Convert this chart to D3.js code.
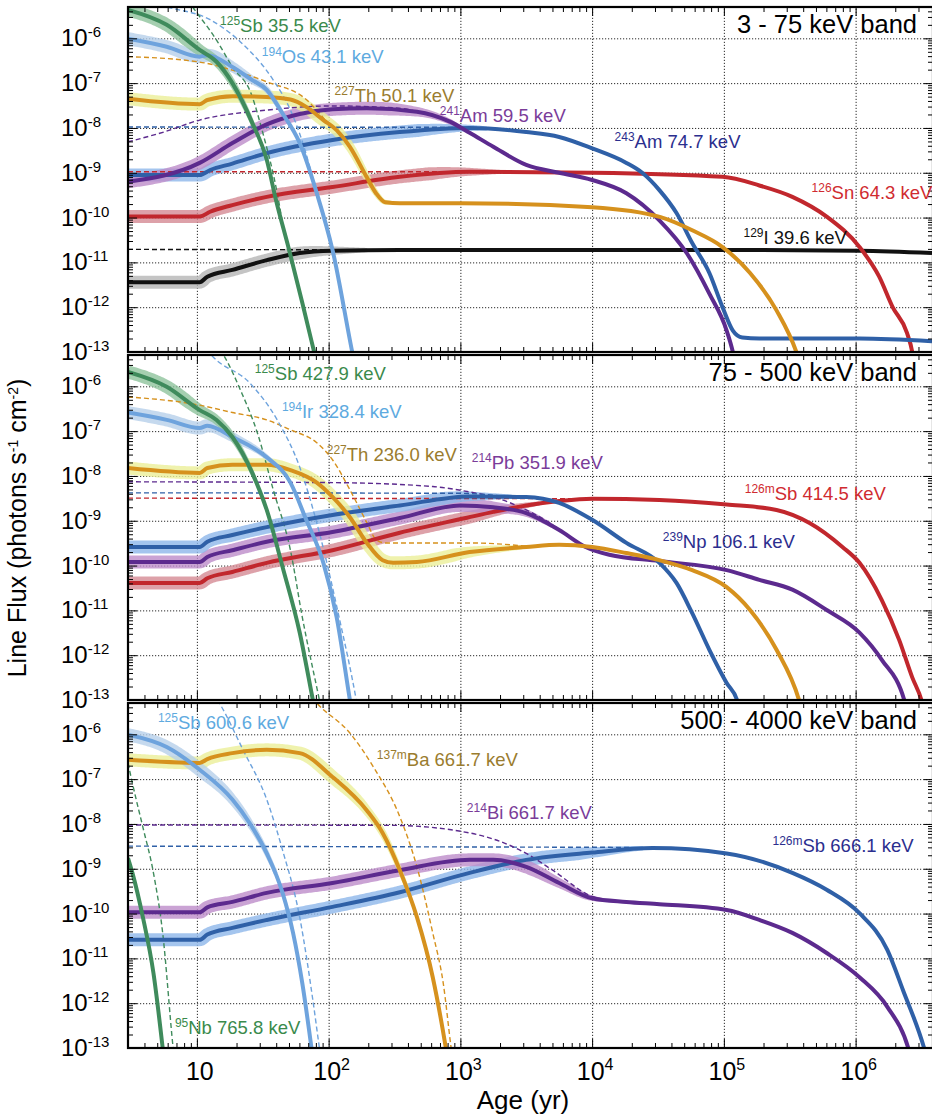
<!DOCTYPE html>
<html>
<head>
<meta charset="utf-8">
<title>Gamma-ray line flux versus remnant age</title>
<script src="https://cdn.jsdelivr.net/npm/d3@7/dist/d3.min.js"></script>
<style>
  html, body { margin: 0; padding: 0; background: #fff; }
  svg { display: block; font-family: "Liberation Sans", Arial, Helvetica, sans-serif; }
  .grid line { stroke: #2a2a2a; stroke-width: 1; stroke-dasharray: 1.2 1.8; }
  .ticks line { stroke: #000; stroke-width: 1; }
</style>
</head>
<body>
<svg id="chart" width="932" height="1114"></svg>
<script>
// ---------------- axis values ----------------
const ageTicks = [10, 1e2, 1e3, 1e4, 1e5, 1e6];
const ageTickPowers = ["", "2", "3", "4", "5", "6"];
const fluxTicks = [1e-13, 1e-12, 1e-11, 1e-10, 1e-9, 1e-8, 1e-7, 1e-6];
const fluxTickPowers = ["-13", "-12", "-11", "-10", "-9", "-8", "-7", "-6"];
const bandTitles = ["3 - 75 keV band", "75 - 500 keV band", "500 - 4000 keV band"];

// ---------------- 3 - 75 keV band: [age (yr), flux (ph/s/cm2)] ----------------
const p1Sb125 = [[3,4.3e-6],[5.9,2.0e-6],[10.5,5.5e-7],[14.1,3.0e-7],[18.6,1.0e-7],[26.3,1.3e-8],[33.9,1.95e-9],[39.8,2.5e-10],[50.1,1.9e-11],[63.1,1.26e-12],[77.6,1.0e-13],[90,1.6e-14]];
const p1Sb125Dash = [[7.9,1.0e-5],[9.3,5.0e-6],[14.1,9.1e-7],[18.6,2.3e-7],[25.7,6.0e-8],[31.6,7.9e-9],[40.7,3.5e-10],[45.7,5.0e-11]];
const p1Os194 = [[3,9.8e-7],[5.9,6.5e-7],[10.5,3.9e-7],[12,4.2e-7],[18.6,2.3e-7],[26.3,1.17e-7],[33.9,7.1e-8],[44.7,2.1e-8],[60.3,4.6e-9],[81.3,3.5e-10],[107,1.9e-11],[151,1.0e-13],[170,1.8e-14]];
const p1Os194Dash = [[4,7.1e-6],[6.0,5.0e-6],[12.6,2.6e-6],[21.4,8.3e-7],[38,1.17e-7],[51.3,2.5e-8],[63.1,5.0e-9],[79.4,4.5e-10]];
const p1Th227 = [[3,4.5e-8],[10.5,3.4e-8],[12,4.2e-8],[18.6,5.1e-8],[33.9,4.9e-8],[51.3,4.3e-8],[67.6,2.95e-8],[91.2,1.5e-8],[115,8.9e-9],[145,3.8e-9],[195,7.9e-10],[229,3.5e-10],[269,2.2e-10],[347,2.1e-10],[1000,2.1e-10],[1e4,1.7e-10],[3.31e4,1.02e-10],[5.75e4,5.2e-11],[9.77e4,2.2e-11],[1.58e5,5.8e-12],[2.51e5,8.5e-13],[3.55e5,1.0e-13],[4.2e5,2e-14]];
const p1Th227Dash = [[3,3.9e-7],[10.5,2.95e-7],[18.6,1.95e-7],[33.9,1.07e-7],[67.6,4.3e-8],[100,1.2e-8]];
const p1Am241 = [[3,6.3e-10],[10.5,1.66e-9],[18.6,4.6e-9],[33.9,1.2e-8],[60.3,2.05e-8],[107,2.6e-8],[195,2.75e-8],[468,2.3e-8],[832,1.38e-8],[1175,7.8e-9],[1778,3.8e-9],[3162,1.5e-9],[5623,1.0e-9],[1e4,6.9e-10],[1.82e4,3.5e-10],[3.24e4,8.7e-11],[5.25e4,1.58e-11],[7.76e4,2.0e-12],[1.05e5,3.0e-13],[1.17e5,1.0e-13],[1.3e5,2e-14]];
const p1Am241Dash = [[3,4.9e-9],[5.6,8.1e-9],[10.5,1.5e-8],[33.9,2.5e-8],[107,3.1e-8],[347,2.75e-8],[468,2.35e-8]];
const p1Am243 = [[3,8.9e-10],[10.5,8.9e-10],[12.6,1.15e-9],[18.6,1.6e-9],[33.9,2.75e-9],[107,5.4e-9],[347,8.1e-9],[1175,1.0e-8],[3162,8.1e-9],[5623,6.3e-9],[1e4,3.5e-9],[1.82e4,1.66e-9],[2.4e4,1.0e-9],[3.24e4,4.1e-10],[4.37e4,1.26e-10],[5.75e4,2.7e-11],[7.76e4,5.8e-12],[9.77e4,1.0e-12],[1.17e5,3.0e-13],[1.38e5,2.1e-13],[1.86e5,2.0e-13],[1.07e6,2.0e-13],[3.8e6,1.74e-13]];
const p1Am243Dash = [[3,1.05e-8],[1500,1.03e-8]];
const p1Sn126 = [[3,1.05e-10],[10.5,1.05e-10],[12.6,1.35e-10],[18.6,1.9e-10],[33.9,2.9e-10],[107,4.8e-10],[347,8.1e-10],[1175,1.05e-9],[1e4,1.0e-9],[9.77e4,8.1e-10],[1.86e5,5.2e-10],[3.31e5,2.9e-10],[6.03e5,1.05e-10],[1.07e6,2.2e-11],[1.51e6,4.8e-12],[1.91e6,1.0e-12],[2.45e6,2.7e-13],[2.69e6,1.0e-13],[2.9e6,2e-14]];
const p1Sn126Dash = [[3,1.05e-9],[2000,1.05e-9]];
const p1I129 = [[3,3.6e-12],[10.5,3.6e-12],[12,4.8e-12],[18.6,6.8e-12],[33.9,1.12e-11],[60.3,1.62e-11],[107,1.82e-11],[347,1.9e-11],[1.05e5,1.9e-11],[1.07e6,1.82e-11],[3.8e6,1.62e-11]];
const p1I129Dash = [[3,1.95e-11],[350,1.9e-11]];

// ---------------- 75 - 500 keV band ----------------
const p2Sb125 = [[3,2.1e-6],[5.9,9.8e-7],[10.5,2.95e-7],[14.1,1.78e-7],[18.6,7.4e-8],[26.3,1.17e-8],[33.9,1.74e-9],[44.7,9.3e-11],[60.3,3.2e-12],[75.9,1.0e-13],[85,1.8e-14]];
const p2Sb125Dash = [[12.6,1.26e-5],[16.2,4.6e-6],[21.4,8.3e-7],[28.8,9.1e-8],[38,4.9e-9],[51.3,2.2e-10],[63.1,7.1e-12],[85.1,1.0e-13],[100,1e-14]];
const p2Ir194 = [[3,2.6e-7],[5.9,1.78e-7],[10.5,1.17e-7],[12,1.32e-7],[18.6,7.4e-8],[33.9,2.6e-8],[51.3,7.1e-9],[67.6,1.05e-9],[91.2,1.15e-10],[115,7.1e-12],[145,1.0e-13],[165,1e-14]];
const p2Ir194Dash = [[10,1.26e-5],[13.2,4.6e-6],[25.1,1.2e-6],[40.7,1.78e-7],[60.3,1.58e-8],[85.1,5.4e-10],[120,7.1e-12],[162,1.0e-13],[185,1e-14]];
const p2Th227 = [[3,1.5e-8],[10.5,1.17e-8],[12,1.5e-8],[18.6,1.78e-8],[33.9,1.78e-8],[51.3,1.35e-8],[81.3,7.1e-9],[107,3.4e-9],[145,1.2e-9],[195,3.2e-10],[257,1.32e-10],[309,1.15e-10],[468,1.2e-10],[1175,2.0e-10],[3162,2.6e-10],[5623,2.9e-10],[1e4,2.6e-10],[1.82e4,1.9e-10],[3.24e4,1.32e-10],[5.75e4,7.9e-11],[1.05e5,3.3e-11],[1.58e5,1.02e-11],[2.51e5,1.32e-12],[3.72e5,1.0e-13],[4.3e5,2e-14]];
const p2Th227Dash = [[3,5.8e-7],[10.5,3.8e-7],[18.6,2.6e-7],[33.9,1.78e-7],[51.3,1.07e-7],[81.3,5.5e-8],[107,2.3e-8],[145,4.9e-9],[195,9.1e-10],[229,3.8e-10],[269,3.2e-10],[1175,3.2e-10],[2089,3.0e-10],[3162,2.7e-10]];
const p2Pb214 = [[3,1.2e-10],[10.5,1.2e-10],[12,1.55e-10],[18.6,2.2e-10],[33.9,3.4e-10],[107,5.6e-10],[347,1.15e-9],[1000,2.2e-9],[1778,2.0e-9],[3162,1.48e-9],[5623,6.2e-10],[8913,2.6e-10],[1.35e4,1.74e-10],[3.24e4,1.26e-10],[1.05e5,7.9e-11],[1.86e5,4.8e-11],[3.31e5,2.9e-11],[6.03e5,1.02e-11],[1.07e6,3.2e-12],[1.58e6,7.9e-13],[2.34e6,1.0e-13],[2.6e6,3e-14]];
const p2Pb214Dash = [[3,7.4e-9],[107,7.1e-9],[617,5.8e-9],[1175,4.4e-9],[1778,3.4e-9],[3162,1.74e-9],[4786,8.9e-10],[6310,5.0e-10]];
const p2Np239 = [[3,2.6e-10],[10.5,2.6e-10],[12,3.4e-10],[18.6,4.8e-10],[33.9,7.2e-10],[107,1.35e-9],[347,2.2e-9],[1175,3.5e-9],[3162,3.4e-9],[5623,2.5e-9],[1e4,1.05e-9],[1.82e4,3.2e-10],[3.24e4,1.15e-10],[4.37e4,4.1e-11],[5.75e4,8.7e-12],[7.76e4,1.32e-12],[1.05e5,2.4e-13],[1.26e5,1.0e-13],[1.4e5,3e-14]];
const p2Np239Dash = [[3,4.2e-9],[1000,4.1e-9],[2000,3.6e-9]];
const p2Sb126m = [[3,4.1e-11],[10.5,4.1e-11],[12,5.2e-11],[18.6,7.2e-11],[33.9,1.15e-10],[107,2.2e-10],[347,5.4e-10],[1122,1.17e-9],[1778,1.58e-9],[3162,2.2e-9],[5623,2.75e-9],[1e4,3.1e-9],[3.24e4,2.9e-9],[1.05e5,2.3e-9],[2.51e5,1.74e-9],[4.47e5,8.9e-10],[7.94e5,2.6e-10],[1.07e6,1.15e-10],[1.58e6,1.7e-11],[2.14e6,2.2e-12],[2.69e6,3.2e-13],[3.16e6,1.0e-13],[3.5e6,3e-14]];
const p2Sb126mDash = [[3,3.2e-9],[8000,3.1e-9]];

// ---------------- 500 - 4000 keV band ----------------
const p3Sb125 = [[3,9.8e-7],[5.9,5.2e-7],[10.5,1.62e-7],[18.6,3.5e-8],[25.1,1.05e-8],[33.9,2.2e-9],[44.7,2.9e-10],[53.7,3.7e-11],[63.1,2.8e-12],[74.1,1.0e-13],[82,1e-14]];
const p3Sb125Dash = [[11.2,1.58e-5],[14.8,5.0e-6],[22.4,4.5e-7],[33.9,3.5e-8],[44.7,2.6e-9],[60.3,8.3e-11],[75.9,1.17e-12],[85.1,1.0e-13],[95,1e-14]];
const p3Ba137m = [[3,2.7e-7],[10.5,2.3e-7],[12,2.8e-7],[18.6,3.8e-7],[33.9,4.5e-7],[60.3,3.8e-7],[107,1.12e-7],[195,2.0e-8],[257,6.3e-9],[347,9.3e-10],[468,8.3e-11],[617,3.8e-12],[776,1.0e-13],[860,1.5e-14]];
const p3Ba137mDash = [[63.1,1.26e-5],[81.3,5.0e-6],[145,1.07e-6],[219,1.86e-7],[347,1.45e-8],[468,1.1e-9],[617,3.7e-11],[741,2.8e-12],[851,1.0e-13],[930,1.5e-14]];
const p3Bi214 = [[3,1.07e-10],[10.5,1.07e-10],[12,1.38e-10],[18.6,1.82e-10],[33.9,2.9e-10],[107,4.8e-10],[347,9.3e-10],[1175,1.58e-9],[1778,1.58e-9],[3162,1.1e-9],[5623,4.8e-10],[1e4,2.2e-10],[1.82e4,1.82e-10],[3.24e4,1.62e-10],[1.05e5,1.2e-10],[1.86e5,7.2e-11],[3.31e5,3.7e-11],[6.03e5,1.32e-11],[1.07e6,3.8e-12],[1.74e6,8.3e-13],[2.51e6,1.0e-13],[2.8e6,3e-14]];
const p3Bi214Dash = [[3,9.5e-9],[300,9.3e-9],[1175,6.3e-9],[3162,2.2e-9],[5012,9.3e-10],[1e4,2.4e-10],[1.26e4,2.0e-10]];
const p3Sb126m = [[3,2.6e-11],[10.5,2.6e-11],[12,3.4e-11],[18.6,4.8e-11],[33.9,7.2e-11],[107,1.41e-10],[347,3.0e-10],[1175,8.1e-10],[3162,1.58e-9],[1e4,2.3e-9],[2.88e4,2.9e-9],[1.05e5,2.2e-9],[3.31e5,8.1e-10],[6.03e5,3.4e-10],[1.07e6,1.02e-10],[1.74e6,1.55e-11],[2.29e6,1.95e-12],[3.31e6,1.0e-13],[3.7e6,3e-14]];
const p3Sb126mDash = [[3,3.2e-9],[2e4,3.0e-9]];
const p3Nb95 = [[3,1.74e-9],[3.24,8.1e-10],[3.89,8.3e-11],[4.68,4.7e-12],[5.5,1.0e-13],[6,1e-14]];
const p3Nb95Dash = [[3,2.3e-7],[3.24,8.1e-8],[3.89,8.5e-9],[4.68,8.1e-10],[5.5,3.7e-11],[6.6,1.0e-13],[7.2,1e-14]];

// ---------------- line labels: superscript mass, text, anchor age, anchor flux ----------------
const p1Labels = [["125","Sb 35.5 keV",15.0,1.39e-6],["194","Os 43.1 keV",31.1,2.82e-7],["227","Th 50.1 keV",111,3.8e-8],["241","Am 59.5 keV",698,1.36e-8],["243","Am 74.7 keV",14800,3.58e-9],["126","Sn 64.3 keV",4.63e5,2.6e-10],["129","I 39.6 keV",1.41e5,2.58e-11]];
const p2Labels = [["125","Sb 427.9 keV",27.5,1.39e-6],["194","Ir 328.4 keV",44.2,1.97e-7],["227","Th 236.0 keV",96.8,2.16e-8],["214","Pb 351.9 keV",1220,1.43e-8],["126m","Sb 414.5 keV",1.44e5,2.91e-9],["239","Np 106.1 keV",34400,2.47e-10]];
const p3Labels = [["125","Sb 600.6 keV",5.06,1.32e-6],["137m","Ba 661.7 keV",232,1.97e-7],["214","Bi 661.7 keV",1120,1.29e-8],["126m","Sb 666.1 keV",2.34e5,2.37e-9],["95","Nb 765.8 keV",6.81,2.05e-13]];

// colour families
const hues = {
  green:  { line: "#3f8b5c", band: "#8ec39c", text: "#3a8a4c" },
  sky:    { line: "#6ea3dd", band: "#b7cfea", text: "#5eaadf" },
  gold:   { line: "#d6911d", band: "#ebef98", text: "#9a7c2e" },
  violet: { line: "#5c2a8e", band: "#bd8cc9", text: "#7a3c99" },
  blue:   { line: "#2f60a7", band: "#8db6ea", text: "#2b2e8e" },
  red:    { line: "#c1272d", band: "#d48a93", text: "#d02b30" },
  black:  { line: "#111111", band: "#b5b5b5", text: "#111111" }
};

const panels = [
  { title: bandTitles[0], labels: p1Labels,
    labelHues: ["green","sky","gold","violet","blue","red","black"],
    series: [
      { solid: p1I129,  dash: p1I129Dash,  hue: "black",  bandEnd: 200 },
      { solid: p1Sn126, dash: p1Sn126Dash, hue: "red",    bandEnd: 2000 },
      { solid: p1Am243, dash: p1Am243Dash, hue: "blue",   bandEnd: 1600 },
      { solid: p1Am241, dash: p1Am241Dash, hue: "violet", bandEnd: 1000 },
      { solid: p1Th227, dash: p1Th227Dash, hue: "gold",   bandEnd: 300 },
      { solid: p1Os194, dash: p1Os194Dash, hue: "sky",    bandEnd: 45 },
      { solid: p1Sb125, dash: p1Sb125Dash, hue: "green",  bandEnd: 28 }
    ] },
  { title: bandTitles[1], labels: p2Labels,
    labelHues: ["green","sky","gold","violet","red","blue"],
    series: [
      { solid: p2Sb126m, dash: p2Sb126mDash, hue: "red",    bandEnd: 4000 },
      { solid: p2Pb214,  dash: p2Pb214Dash,  hue: "violet", bandEnd: 5000 },
      { solid: p2Np239,  dash: p2Np239Dash,  hue: "blue",   bandEnd: 2500 },
      { solid: p2Th227,  dash: p2Th227Dash,  hue: "gold",   bandEnd: 3000 },
      { solid: p2Ir194,  dash: p2Ir194Dash,  hue: "sky",    bandEnd: 40 },
      { solid: p2Sb125,  dash: p2Sb125Dash,  hue: "green",  bandEnd: 28 }
    ] },
  { title: bandTitles[2], labels: p3Labels,
    labelHues: ["sky","gold","violet","blue","green"],
    series: [
      { solid: p3Sb126m, dash: p3Sb126mDash, hue: "blue",   bandEnd: 25000 },
      { solid: p3Bi214,  dash: p3Bi214Dash,  hue: "violet", bandEnd: 12000 },
      { solid: p3Ba137m, dash: p3Ba137mDash, hue: "gold",   bandEnd: 400 },
      { solid: p3Sb125,  dash: p3Sb125Dash,  hue: "sky",    bandEnd: 40 },
      { solid: p3Nb95,   dash: p3Nb95Dash,   hue: "green",  bandEnd: 0 }
    ] }
];

// ---------------- layout ----------------
const svg = d3.select("#chart");
const plotLeft = 128, plotRight = 932, frameRight = 933;
const panelTops = [7, 355, 703];
const panelHeight = 345;

const x = d3.scaleLog().domain([3, 3.8e6]).range([plotLeft, plotRight]);
const isDecade = v => Math.abs(Math.log10(v) - Math.round(Math.log10(v))) < 1e-9;
const ageAll = x.ticks();
const ageMinor = ageAll.filter(v => !isDecade(v));
const ageMajor = ageAll.filter(isDecade);

// outline of a thick uncertainty band that follows a drawn path and narrows near its end
function bandOutline(node, xEnd, halfW, minHalf) {
  const L = node.getTotalLength();
  const pts = [];
  for (let s = 0; s <= L; s += 1.5) {
    const p = node.getPointAtLength(s);
    if (p.x > xEnd) break;
    pts.push(p);
  }
  const left = [], right = [];
  for (let i = 0; i < pts.length; i++) {
    const a = pts[Math.max(0, i - 2)], b = pts[Math.min(pts.length - 1, i + 2)];
    let dx = b.x - a.x, dy = b.y - a.y;
    const n = Math.hypot(dx, dy) || 1; dx /= n; dy /= n;
    const p = pts[i];
    const f = Math.min(1, Math.max(0, (xEnd - p.x) / 70));
    const w = minHalf + (halfW - minHalf) * f;
    left.push([p.x - dy * w, p.y + dx * w]);
    right.push([p.x + dy * w, p.y - dx * w]);
  }
  return left.concat(right.reverse());
}

const defs = svg.append("defs");

panels.forEach((panel, i) => {
  const top = panelTops[i], bottom = top + panelHeight;
  const y = d3.scaleLog().domain([1e-13, 5e-6]).range([bottom, top]);
  const fluxAll = y.ticks();
  const fluxMinor = fluxAll.filter(v => !isDecade(v));
  const fluxMajor = fluxAll.filter(isDecade);

  defs.append("clipPath").attr("id", "clip" + i)
    .append("rect").attr("x", plotLeft).attr("y", top)
    .attr("width", frameRight - plotLeft).attr("height", panelHeight);

  const g = svg.append("g");
  const plot = g.append("g").attr("clip-path", `url(#clip${i})`);

  // dotted decade grid
  const gx = plot.append("g").attr("class", "grid").attr("transform", `translate(0,${bottom})`)
    .call(d3.axisBottom(x).tickValues(ageTicks).tickSize(-panelHeight).tickFormat(""));
  gx.select(".domain").remove();
  const gy = plot.append("g").attr("class", "grid").attr("transform", `translate(${plotLeft},0)`)
    .call(d3.axisLeft(y).tickValues(fluxTicks.slice(1)).tickSize(-(frameRight - plotLeft)).tickFormat(""));
  gy.select(".domain").remove();

  const bandLayer = plot.append("g");
  const dashLayer = plot.append("g");
  const solidLayer = plot.append("g");

  const line = d3.line().x(d => x(d[0])).y(d => y(d[1])).curve(d3.curveMonotoneX);

  panel.series.forEach(s => {
    const h = hues[s.hue];
    const solid = solidLayer.append("path")
      .attr("d", line(s.solid))
      .attr("fill", "none").attr("stroke", h.line)
      .attr("stroke-width", 4).attr("stroke-linejoin", "round");
    dashLayer.append("path")
      .attr("d", line(s.dash))
      .attr("fill", "none").attr("stroke", h.line)
      .attr("stroke-width", 1.4).attr("stroke-dasharray", "5 3");
    if (s.bandEnd > 0) {
      const outline = bandOutline(solid.node(), x(s.bandEnd), 6.5, 2);
      bandLayer.append("path")
        .attr("d", d3.line()(outline) + "Z")
        .attr("fill", h.band).attr("fill-opacity", 0.8).attr("stroke", "none");
    }
  });

  // inward tick marks on all four sides
  const tickGroups = [
    [d3.axisBottom(x), `translate(0,${bottom})`, ageMajor, ageMinor],
    [d3.axisTop(x), `translate(0,${top})`, ageMajor, ageMinor],
    [d3.axisLeft(y), `translate(${plotLeft},0)`, fluxMajor, fluxMinor],
    [d3.axisRight(y), `translate(${frameRight},0)`, fluxMajor, fluxMinor]
  ];
  tickGroups.forEach(([axis, tr, major, minor]) => {
    const a = g.append("g").attr("class", "ticks").attr("transform", tr)
      .call(axis.tickValues(major).tickSize(-9).tickFormat(""));
    a.select(".domain").remove();
    const b = g.append("g").attr("class", "ticks").attr("transform", tr)
      .call(axis.tickValues(minor).tickSize(-5).tickFormat(""));
    b.select(".domain").remove();
  });

  // frame
  g.append("rect").attr("x", plotLeft).attr("y", top)
    .attr("width", frameRight - plotLeft).attr("height", panelHeight)
    .attr("fill", "none").attr("stroke", "#000").attr("stroke-width", 2.2);

  // flux tick labels
  fluxTicks.forEach((v, k) => {
    const t = g.append("text").attr("x", 61).attr("y", y(v) + 8)
      .attr("fill", "#000").style("font-size", "24px");
    t.append("tspan").text("10");
    t.append("tspan").text(fluxTickPowers[k]).attr("dy", -9).style("font-size", "15px");
  });

  // band title
  g.append("text").attr("x", 917).attr("y", top + 26).attr("text-anchor", "end")
    .attr("fill", "#000").style("font-size", "25.5px").text(panel.title);

  // line labels
  panel.labels.forEach((lab, k) => {
    const t = g.append("text").attr("x", x(lab[2])).attr("y", y(lab[3]))
      .attr("fill", hues[panel.labelHues[k]].text).style("font-size", "18.5px");
    t.append("tspan").text(lab[0]).attr("dy", -7).style("font-size", "12px");
    t.append("tspan").text(lab[1]).attr("dy", 7);
  });

  // age tick labels under the last panel
  if (i === panels.length - 1) {
    ageTicks.forEach((v, k) => {
      const t = svg.append("text").attr("x", x(v) + 3).attr("y", bottom + 32)
        .attr("text-anchor", "middle").attr("fill", "#000").style("font-size", "25px");
      t.append("tspan").text("10");
      if (ageTickPowers[k]) t.append("tspan").text(ageTickPowers[k]).attr("dy", -10).style("font-size", "16px");
    });
  }
});

// axis titles
svg.append("text").attr("x", 523).attr("y", 1109).attr("text-anchor", "middle")
  .style("font-size", "26px").attr("fill", "#000").text("Age (yr)");

const yTitle = svg.append("text").attr("transform", "translate(26,528) rotate(-90)")
  .attr("text-anchor", "middle").style("font-size", "25px").attr("fill", "#000");
yTitle.append("tspan").text("Line Flux (photons s");
yTitle.append("tspan").text("-1").attr("dy", -8).style("font-size", "14px");
yTitle.append("tspan").text(" cm").attr("dy", 8);
yTitle.append("tspan").text("-2").attr("dy", -8).style("font-size", "14px");
yTitle.append("tspan").text(")").attr("dy", 8);
</script>
</body>
</html>
